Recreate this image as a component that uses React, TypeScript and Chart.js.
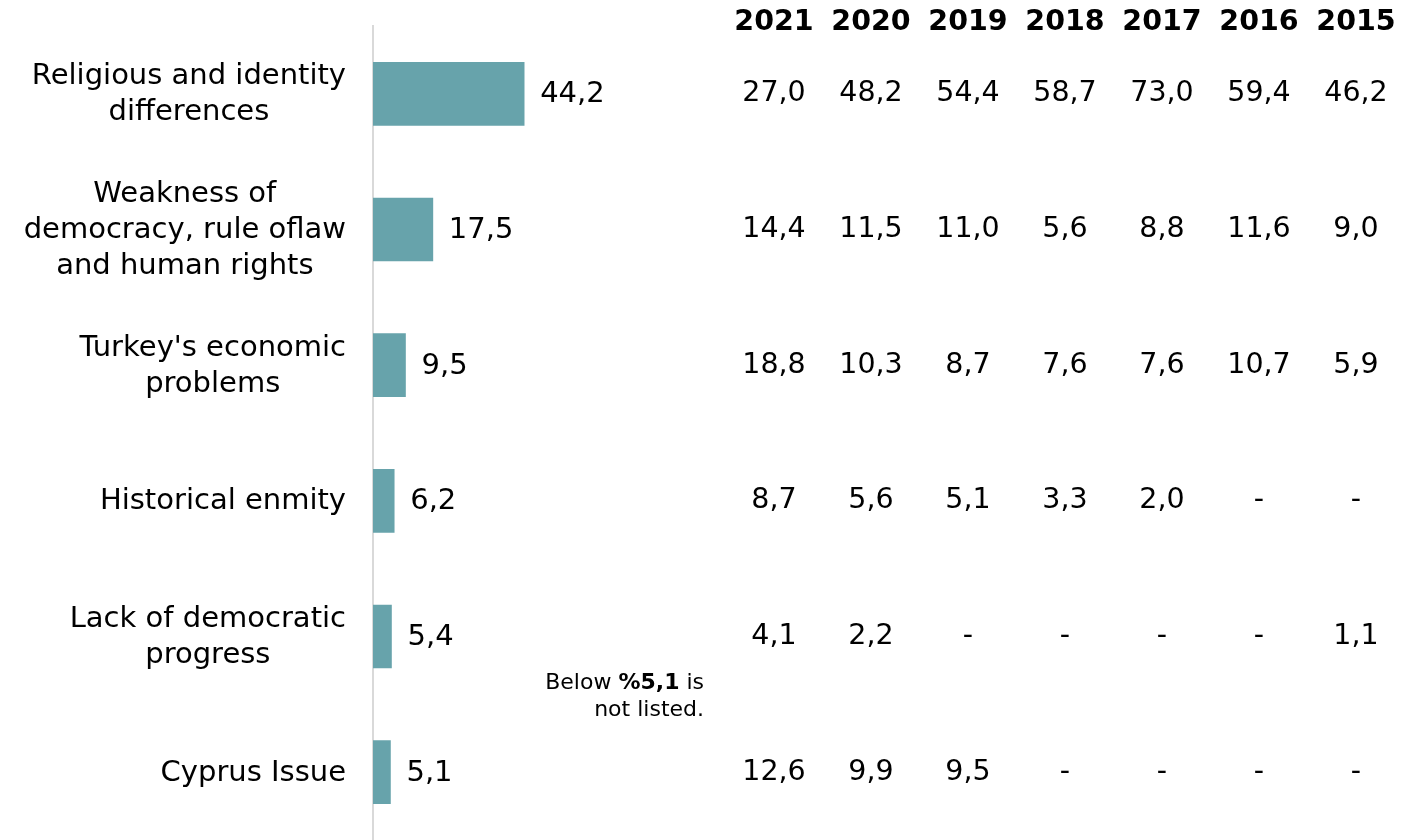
import React, { useEffect, useRef } from "react";
import { Chart, registerables } from "chart.js";

Chart.register(...registerables);

const categories: string[][] = [
  ["Religious and identity", "differences"],
  ["Weakness of", "democracy, rule oflaw", "and human rights"],
  ["Turkey's economic", "problems"],
  ["Historical enmity"],
  ["Lack of democratic", "progress"],
  ["Cyprus Issue"],
];
const values2022 = [44.2, 17.5, 9.5, 6.2, 5.4, 5.1];
const years = ["2021", "2020", "2019", "2018", "2017", "2016", "2015"];
const y2021 = [27.0, 14.4, 18.8, 8.7, 4.1, 12.6];
const y2020 = [48.2, 11.5, 10.3, 5.6, 2.2, 9.9];
const y2019 = [54.4, 11.0, 8.7, 5.1, null, 9.5];
const y2018 = [58.7, 5.6, 7.6, 3.3, null, null];
const y2017 = [73.0, 8.8, 7.6, 2.0, null, null];
const y2016 = [59.4, 11.6, 10.7, null, null, null];
const y2015 = [46.2, 9.0, 5.9, null, 1.1, null];
const tableSeries: (number | null)[][] = [y2021, y2020, y2019, y2018, y2017, y2016, y2015];

const FONT = '"DejaVu Sans", Verdana, sans-serif';
const fmt = (v: number | null) => (v === null ? "-" : v.toFixed(1).replace(".", ","));

export default function App() {
  const ref = useRef<HTMLCanvasElement | null>(null);
  useEffect(() => {
    const canvas = ref.current;
    if (!canvas) return;
    const overlay = {
      id: "overlay",
      afterDraw(chart: any) {
        const ctx = chart.ctx;
        const yScale = chart.scales.y;
        const xScale = chart.scales.x;
        ctx.save();
        ctx.fillStyle = "#000";
        ctx.textBaseline = "middle";
        // category labels: block right-aligned, lines centred within block
        ctx.font = `29px ${FONT}`;
        const lineH = 36;
        const labelRight = 346;
        categories.forEach((lines, i) => {
          const cy = yScale.getPixelForValue(i);
          const w = Math.max(...lines.map((l) => ctx.measureText(l).width));
          const cx = labelRight - w / 2;
          ctx.textAlign = "center";
          lines.forEach((l, j) => {
            ctx.fillText(l, cx, cy + 1 + (j - (lines.length - 1) / 2) * lineH);
          });
        });
        // bar value labels
        ctx.font = `29px ${FONT}`;
        ctx.textAlign = "left";
        values2022.forEach((v, i) => {
          const cy = yScale.getPixelForValue(i);
          ctx.fillText(fmt(v), xScale.getPixelForValue(v) + 16, cy + 1);
        });
        // table of previous years
        const colX = [774, 871, 968, 1065, 1162, 1259, 1356];
        ctx.textAlign = "center";
        ctx.font = `bold 28.5px ${FONT}`;
        years.forEach((yr, c) => ctx.fillText(yr, colX[c], 23));
        ctx.font = `28.5px ${FONT}`;
        tableSeries.forEach((ser, c) => {
          ser.forEach((v, i) => {
            const cy = yScale.getPixelForValue(i);
            ctx.fillText(fmt(v), colX[c], cy);
          });
        });
        // note
        const noteRight = 704;
        const fs = 22;
        ctx.textAlign = "left";
        const p1 = "Below ";
        const p3 = " is";
        ctx.font = `bold ${fs}px ${FONT}`;
        const bw = ctx.measureText("%5,1").width;
        ctx.font = `${fs}px ${FONT}`;
        const w1 = ctx.measureText(p1).width;
        const w3 = ctx.measureText(p3).width;
        let x = noteRight - (w1 + bw + w3);
        const ny = 683;
        ctx.fillText(p1, x, ny);
        x += w1;
        ctx.font = `bold ${fs}px ${FONT}`;
        ctx.fillText("%5,1", x, ny);
        x += bw;
        ctx.font = `${fs}px ${FONT}`;
        ctx.fillText(p3, x, ny);
        ctx.textAlign = "right";
        ctx.fillText("not listed.", noteRight, ny + 27);
        ctx.restore();
      },
    };
    const chart = new Chart(canvas, {
      type: "bar",
      data: {
        labels: categories.map((c) => c.join(" ")),
        datasets: [
          {
            data: values2022,
            backgroundColor: "#67A3AB",
            borderWidth: 0,
            barThickness: 63,
          },
        ],
      },
      options: {
        indexAxis: "y",
        animation: false,
        responsive: false,
        maintainAspectRatio: false,
        layout: { padding: { top: 26, right: 7, bottom: 0, left: 0 } },
        plugins: { legend: { display: false }, tooltip: { enabled: false } },
        scales: {
          x: { display: false, min: 0, max: 300 },
          y: {
            ticks: { display: false },
            grid: { display: false, drawTicks: false },
            border: { display: true, color: "#d9d9d9", width: 2 },
            afterFit: (scale: any) => {
              scale.width = 373;
            },
          },
        },
      },
      plugins: [overlay],
    });
    return () => chart.destroy();
  }, []);
  return (
    <div style={{ position: "absolute", left: 0, top: 0, width: 1406, height: 840, background: "#fff" }}>
      <canvas ref={ref} width={1406} height={840} style={{ width: 1406, height: 840 }} />
    </div>
  );
}
